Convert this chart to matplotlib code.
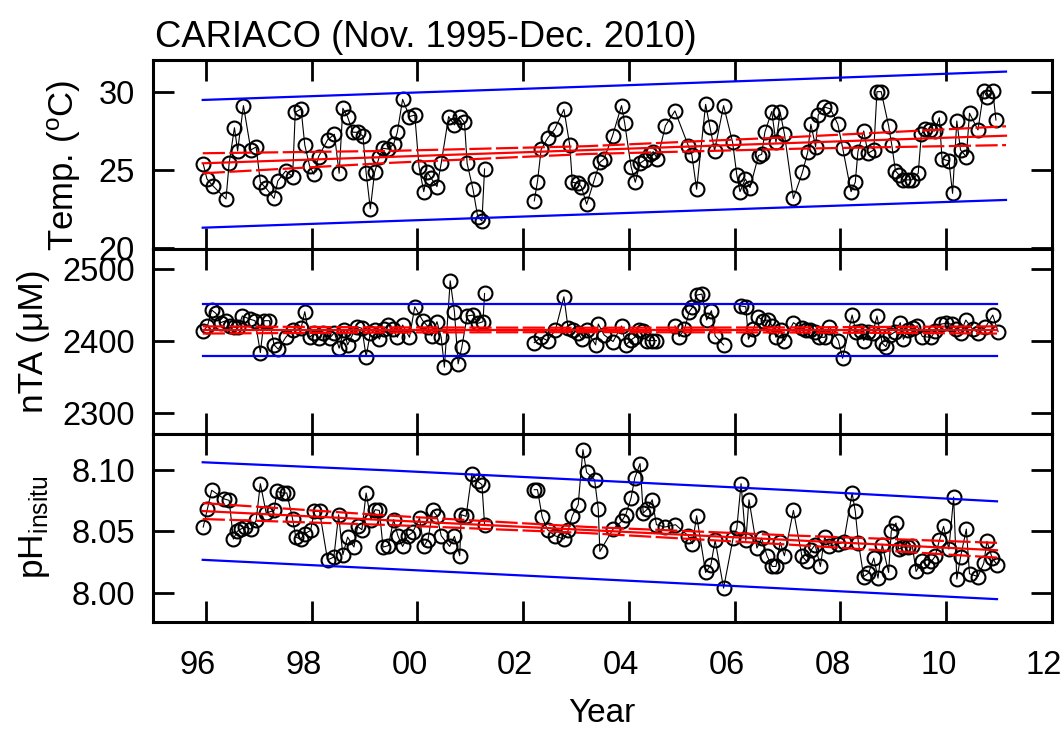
import numpy as np
import matplotlib.pyplot as plt
from matplotlib.transforms import ScaledTranslation

plt.rcParams['font.family'] = ['Liberation Sans', 'DejaVu Sans']
plt.rcParams['mathtext.fontset'] = 'custom'
plt.rcParams['mathtext.rm'] = 'Liberation Sans'
plt.rcParams['mathtext.it'] = 'Liberation Sans:italic'

# ---- temperature (deg C) ----
temp_year = [1995.95, 1996.02, 1996.13, 1996.38, 1996.44, 1996.54, 1996.60, 1996.71, 1996.85, 1996.95,
             1997.03, 1997.14, 1997.29, 1997.36, 1997.51, 1997.64, 1997.69, 1997.80, 1997.87, 1997.96,
             1998.04, 1998.13, 1998.30, 1998.43, 1998.52, 1998.59, 1998.68, 1998.78, 1998.87, 1998.97,
             1999.03, 1999.11, 1999.19, 1999.28, 1999.35, 1999.44, 1999.55, 1999.62, 1999.72, 1999.85,
             1999.95, 2000.03, 2000.12, 2000.19, 2000.26, 2000.37, 2000.45, 2000.59, 2000.70, 2000.80,
             2000.89, 2000.94, 2001.05, 2001.14, 2001.22, 2001.27,
             2002.21, 2002.27, 2002.34, 2002.46, 2002.60, 2002.77, 2002.88, 2002.93, 2003.04, 2003.10,
             2003.20, 2003.35, 2003.45, 2003.53, 2003.69, 2003.86, 2003.92, 2004.04, 2004.12, 2004.21,
             2004.30, 2004.40, 2004.46, 2004.54, 2004.69, 2004.87, 2005.12, 2005.19, 2005.28, 2005.45,
             2005.53, 2005.62, 2005.79, 2005.96, 2006.04, 2006.10, 2006.20, 2006.29, 2006.45, 2006.51,
             2006.57, 2006.70, 2006.78, 2006.86, 2006.94, 2007.11, 2007.28, 2007.38, 2007.44, 2007.53,
             2007.58, 2007.68, 2007.81, 2007.95, 2008.04, 2008.20, 2008.28, 2008.33, 2008.44, 2008.52,
             2008.63, 2008.69, 2008.77, 2008.91, 2008.97, 2009.04, 2009.11, 2009.19, 2009.28, 2009.35,
             2009.47, 2009.53, 2009.60, 2009.70, 2009.78, 2009.87, 2009.92, 2010.05, 2010.12, 2010.20,
             2010.27, 2010.38, 2010.44, 2010.60, 2010.71, 2010.77, 2010.88, 2010.94]
temp_val = [25.39, 24.43, 24.00, 23.15, 25.43, 27.70, 26.22, 29.11, 26.28, 26.47,
            24.22, 23.83, 23.19, 24.30, 24.94, 24.58, 28.68, 28.90, 26.60, 25.28,
            24.73, 25.85, 26.92, 27.28, 24.79, 28.94, 28.39, 27.41, 27.41, 27.17,
            24.83, 22.52, 24.85, 25.85, 26.39, 26.34, 26.64, 27.41, 29.51, 28.41,
            28.51, 25.22, 23.62, 24.85, 24.47, 23.94, 25.43, 28.41, 27.88, 28.41,
            28.04, 25.43, 23.79, 22.02, 21.75, 25.07,
            23.03, 24.26, 26.32, 27.02, 27.62, 28.87, 26.60, 24.22, 24.15, 23.94,
            22.81, 24.43, 25.49, 25.71, 27.19, 29.11, 27.98, 25.22, 24.22, 25.43,
            25.64, 26.00, 26.17, 25.71, 27.83, 28.77, 26.56, 25.96, 23.77, 29.19,
            27.77, 26.24, 29.11, 26.77, 24.68, 23.62, 24.43, 23.88, 25.92, 26.00,
            27.41, 28.73, 26.77, 28.68, 27.30, 23.19, 24.85, 26.13, 27.92, 26.49,
            28.51, 29.04, 28.90, 27.92, 26.43, 23.62, 24.22, 26.17, 27.49, 26.07,
            26.28, 30.00, 30.00, 27.83, 26.60, 24.94, 24.68, 24.37, 24.37, 24.37,
            24.79, 27.30, 27.62, 27.56, 27.49, 28.34, 25.71, 25.58, 23.51, 28.13,
            26.28, 25.85, 28.62, 27.56, 30.04, 29.68, 30.04, 28.19]

# ---- normalised total alkalinity (uM) ----
ta_year = [1995.95, 1996.03, 1996.11, 1996.19, 1996.28, 1996.38, 1996.46, 1996.54, 1996.61, 1996.69,
           1996.84, 1996.93, 1997.03, 1997.10, 1997.20, 1997.29, 1997.37, 1997.51, 1997.64, 1997.80,
           1997.87, 1997.96, 1998.05, 1998.13, 1998.21, 1998.34, 1998.43, 1998.52, 1998.61, 1998.68,
           1998.78, 1998.86, 1998.95, 1999.03, 1999.11, 1999.20, 1999.28, 1999.36, 1999.44, 1999.53,
           1999.62, 1999.72, 1999.85, 1999.95, 2000.10, 2000.20, 2000.27, 2000.37, 2000.45, 2000.51,
           2000.62, 2000.70, 2000.77, 2000.84, 2000.94, 2001.05, 2001.14, 2001.24, 2001.27,
           2002.21, 2002.34, 2002.46, 2002.61, 2002.77, 2002.85, 2002.94, 2003.03, 2003.11, 2003.20,
           2003.37, 2003.42,
           2003.53, 2003.70, 2003.86, 2003.94, 2004.04, 2004.11, 2004.19, 2004.27, 2004.35, 2004.44,
           2004.52, 2004.87, 2004.95, 2005.05, 2005.14, 2005.20, 2005.28, 2005.38, 2005.47, 2005.56,
           2005.63, 2005.79, 2006.12, 2006.21, 2006.26, 2006.35, 2006.44, 2006.54, 2006.63, 2006.71,
           2006.78, 2006.88, 2006.94, 2007.11, 2007.27, 2007.34, 2007.43, 2007.52, 2007.60, 2007.70,
           2007.79, 2007.96, 2008.04, 2008.22, 2008.29, 2008.39, 2008.44, 2008.53, 2008.61, 2008.69,
           2008.79, 2008.86, 2008.94, 2009.04, 2009.13, 2009.19, 2009.28, 2009.38, 2009.45, 2009.55,
           2009.72, 2009.79, 2009.91, 2009.99, 2010.10, 2010.19, 2010.27, 2010.37, 2010.50, 2010.61,
           2010.74, 2010.88, 2010.98]
ta_val = [2413.6, 2420.5, 2442.5, 2437.9, 2425.1, 2427.8, 2420.5, 2418.6, 2418.6, 2434.3,
          2429.7, 2427.8, 2383.7, 2427.8, 2427.8, 2394.3, 2388.3, 2404.8, 2415.0, 2417.2,
          2440.2, 2404.8, 2410.4, 2403.5, 2410.4, 2403.5, 2411.3, 2389.7, 2415.0, 2394.3,
          2409.4, 2419.5, 2417.2, 2378.2, 2410.4, 2415.0, 2402.1, 2415.9, 2421.8, 2415.9,
          2404.8, 2421.8, 2404.8, 2447.1, 2427.8, 2419.5, 2406.7, 2426.4, 2404.8, 2363.5,
          2483.0, 2440.2, 2368.1, 2391.1, 2434.3, 2435.6, 2424.1, 2426.4, 2465.5,
          2397.5, 2404.8, 2400.2, 2415.0, 2460.9, 2417.2, 2415.0, 2411.3, 2402.1, 2415.0,
          2394.3, 2423.2,
          2408.1, 2398.9, 2420.5, 2394.3, 2401.2, 2404.8, 2415.0, 2414.0, 2400.2, 2400.2,
          2400.2, 2420.5, 2405.8, 2415.9, 2440.2, 2446.2, 2463.2, 2464.6, 2428.7, 2441.6,
          2406.7, 2394.3, 2448.1, 2447.1, 2402.1, 2415.9, 2433.3, 2427.8, 2428.7, 2420.5,
          2404.8, 2415.0, 2400.2, 2425.1, 2417.2, 2415.0, 2415.0, 2412.6, 2404.8, 2404.8,
          2419.5, 2400.2, 2375.9, 2435.6, 2412.6, 2414.0, 2400.2, 2412.6, 2410.4, 2434.3,
          2396.6, 2391.9, 2408.1, 2412.6, 2425.1, 2402.1, 2415.0, 2417.2, 2420.5, 2405.8,
          2404.8, 2414.0, 2423.2, 2424.1, 2423.2, 2415.9, 2410.4, 2428.7, 2415.9, 2411.3,
          2418.6, 2435.6, 2412.6]

# ---- in situ pH ----
ph_year = [1995.95, 1996.03, 1996.11, 1996.35, 1996.44, 1996.52, 1996.59, 1996.66, 1996.74, 1996.85,
           1996.95, 1997.03, 1997.14, 1997.29, 1997.34, 1997.45, 1997.53, 1997.64, 1997.70, 1997.79,
           1997.87, 1997.98, 1998.05, 1998.15, 1998.30, 1998.42, 1998.51, 1998.59, 1998.68, 1998.80,
           1998.87, 1998.95, 1999.03, 1999.12, 1999.20, 1999.28, 1999.35, 1999.45, 1999.55, 1999.63,
           1999.72, 1999.82, 1999.91, 2000.04, 2000.12, 2000.20, 2000.29, 2000.37, 2000.45, 2000.61,
           2000.70, 2000.80, 2000.83, 2000.92, 2001.03, 2001.14, 2001.22, 2001.27,
           2002.21, 2002.27, 2002.36, 2002.46, 2002.60, 2002.77, 2002.85, 2002.93, 2003.04, 2003.13,
           2003.20, 2003.35, 2003.42, 2003.45,
           2003.70, 2003.86, 2003.94, 2004.04, 2004.11, 2004.21, 2004.27, 2004.35, 2004.44, 2004.52,
           2004.68, 2004.88, 2005.12, 2005.20, 2005.28, 2005.45, 2005.55, 2005.63, 2005.79, 2005.97,
           2006.04, 2006.12, 2006.21, 2006.27, 2006.42, 2006.51, 2006.61, 2006.71, 2006.78, 2006.86,
           2006.94, 2007.11, 2007.27, 2007.36, 2007.45, 2007.52, 2007.62, 2007.70, 2007.79, 2007.96,
           2008.06, 2008.22, 2008.28, 2008.34, 2008.44, 2008.53, 2008.63, 2008.71, 2008.79, 2008.91,
           2008.96, 2009.05, 2009.10, 2009.19, 2009.28, 2009.36, 2009.43, 2009.54, 2009.64, 2009.72,
           2009.79, 2009.87, 2009.95, 2010.05, 2010.14, 2010.20, 2010.27, 2010.38, 2010.44, 2010.60,
           2010.71, 2010.77, 2010.87, 2010.96]
ph_val = [8.0533, 8.0682, 8.0832, 8.0761, 8.0750, 8.0435, 8.0497, 8.0516, 8.0533, 8.0516,
          8.0587, 8.0886, 8.0647, 8.0668, 8.0823, 8.0810, 8.0810, 8.0598, 8.0451, 8.0435,
          8.0478, 8.0505, 8.0660, 8.0660, 8.0266, 8.0288, 8.0633, 8.0307, 8.0451, 8.0370,
          8.0538, 8.0511, 8.0810, 8.0592, 8.0674, 8.0668, 8.0370, 8.0381, 8.0592, 8.0462,
          8.0375, 8.0462, 8.0489, 8.0606, 8.0375, 8.0429, 8.0668, 8.0625, 8.0462, 8.0375,
          8.0457, 8.0299, 8.0633, 8.0620, 8.0967, 8.0905, 8.0878, 8.0552,
          8.0837, 8.0837, 8.0614, 8.0511, 8.0462, 8.0435, 8.0505, 8.0625, 8.0715, 8.1163,
          8.0978, 8.0918, 8.0679, 8.0334,
          8.0516, 8.0579, 8.0633, 8.0769, 8.0932, 8.1049, 8.0647, 8.0679, 8.0755, 8.0552,
          8.0533, 8.0552, 8.0462, 8.0397, 8.0625, 8.0163, 8.0226, 8.0424, 8.0036, 8.0443,
          8.0524, 8.0886, 8.0424, 8.0755, 8.0362, 8.0443, 8.0299, 8.0212, 8.0212, 8.0408,
          8.0299, 8.0668, 8.0299, 8.0253, 8.0348, 8.0389, 8.0212, 8.0451, 8.0375, 8.0397,
          8.0408, 8.0810, 8.0660, 8.0402, 8.0130, 8.0158, 8.0280, 8.0117, 8.0389, 8.0163,
          8.0497, 8.0565, 8.0353, 8.0370, 8.0370, 8.0375, 8.0171, 8.0253, 8.0218, 8.0253,
          8.0294, 8.0424, 8.0538, 8.0353, 8.0777, 8.0109, 8.0288, 8.0516, 8.0152, 8.0130,
          8.0239, 8.0416, 8.0280, 8.0226]

# ---- regression lines (fit, 95% band of fit, prediction band) ----
temp_fit_x = [1995.94, 1999.5, 2003.2, 2007.2, 2011.13]
temp_fit = [25.43, 25.84, 26.27, 26.74, 27.19]
temp_ci_hi = [26.07, 26.22, 26.52, 27.12, 27.79]
temp_ci_lo = [24.79, 25.46, 26.02, 26.36, 26.59]
temp_pi_hi = [29.47, 29.89, 30.32, 30.80, 31.28]
temp_pi_lo = [21.32, 21.74, 22.17, 22.64, 23.09]

ta_fit_x = [1995.94, 1999.5, 2003.2, 2007.1, 2010.96]
ta_fit = [2415.0, 2415.0, 2415.0, 2415.0, 2415.0]
ta_ci_hi = [2420.0, 2418.5, 2418.0, 2418.5, 2420.0]
ta_ci_lo = [2410.0, 2411.5, 2412.0, 2411.5, 2410.0]
ta_pi_hi = [2450.8, 2450.8, 2450.8, 2450.8, 2450.8]
ta_pi_lo = [2379.1, 2379.1, 2379.1, 2379.1, 2379.1]

ph_fit_x = [1995.94, 1999.5, 2003.2, 2007.1, 2010.96]
ph_fit = [8.0663, 8.0587, 8.0509, 8.0426, 8.0344]
ph_ci_hi = [8.0728, 8.0625, 8.0534, 8.0464, 8.0404]
ph_ci_lo = [8.0598, 8.0549, 8.0484, 8.0388, 8.0284]
ph_pi_hi = [8.1060, 8.0993, 8.0915, 8.0832, 8.0742]
ph_pi_lo = [8.0266, 8.0191, 8.0113, 8.0029, 7.9946]

year_ticks = [1996, 1998, 2000, 2002, 2004, 2006, 2008, 2010, 2012]
year_labels = ['96', '98', '00', '02', '04', '06', '08', '10', '12']


def with_gaps(x, y, max_gap=0.3):
    # break the connecting line where sampling stopped for a while
    x = np.asarray(x, float)
    y = np.asarray(y, float)
    cut = np.where(np.diff(x) > max_gap)[0] + 1
    return np.insert(x, cut, np.nan), np.insert(y, cut, np.nan)


fig = plt.figure(figsize=(10.64, 7.29), dpi=100)
W, H = 1064, 729


def panel(top, bottom):
    return fig.add_axes([153 / W, 1 - bottom / H, 899 / W, (bottom - top) / H])


def draw(ax, x, y, fx, fit, cl, ch, pl, ph, ylim, yticks, ylabels):
    gx, gy = with_gaps(x, y)
    ax.plot(gx, gy, '-', color='black', lw=0.8, zorder=2)
    ax.plot(x, y, 'o', mfc='none', mec='black', ms=10, mew=1.5, zorder=3)
    ax.plot(fx, pl, color='#0000ff', lw=1.6, zorder=4)
    ax.plot(fx, ph, color='#0000ff', lw=1.6, zorder=4)
    ax.plot(fx, fit, color='#ff0000', lw=1.6, zorder=4)
    ax.plot(fx, cl, color='#ff0000', lw=1.6, dashes=(10, 2), zorder=4)
    ax.plot(fx, ch, color='#ff0000', lw=1.6, dashes=(10, 2), zorder=4)
    ax.set_xlim(1995.0, 2012.0)
    ax.set_ylim(*ylim)
    ax.set_xticks(year_ticks)
    ax.set_yticks(yticks)
    ax.set_yticklabels(ylabels)
    ax.tick_params(direction='in', length=15, width=2, top=True, right=True,
                   labelsize=23.5, pad=13)
    ax.tick_params(axis='x', pad=20)
    for s in ax.spines.values():
        s.set_linewidth(2.2)


ax1 = panel(60, 249)
draw(ax1, temp_year, temp_val, temp_fit_x, temp_fit, temp_ci_lo, temp_ci_hi,
     temp_pi_lo, temp_pi_hi, (19.96, 32.02), [20, 25, 30], ['20', '25', '30'])
ax1.set_xticklabels([])

ax2 = panel(249, 434)
draw(ax2, ta_year, ta_val, ta_fit_x, ta_fit, ta_ci_lo, ta_ci_hi,
     ta_pi_lo, ta_pi_hi, (2271, 2527), [2300, 2400, 2500], ['2300', '2400', '2500'])
ax2.set_xticklabels([])

ax3 = panel(434, 622)
draw(ax3, ph_year, ph_val, ph_fit_x, ph_fit, ph_ci_lo, ph_ci_hi,
     ph_pi_lo, ph_pi_hi, (7.976, 8.129), [8.00, 8.05, 8.10], ['8.00', '8.05', '8.10'])
ax3.set_xticklabels(year_labels)
shift = ScaledTranslation(-0.08, 0, fig.dpi_scale_trans)
for lab in ax3.get_xticklabels():
    lab.set_transform(lab.get_transform() + shift)

fig.text(155 / W, 1 - 47 / H, 'CARIACO (Nov. 1995-Dec. 2010)', fontsize=26.2, va='baseline')
fig.text(64 / W, 1 - 165 / H, r'Temp. ($^{\mathrm{o}}$C)', fontsize=25, rotation=90,
         ha='center', va='center')
fig.text(33 / W, 1 - 341 / H, 'nTA (μM)', fontsize=25.5, rotation=90, ha='center', va='center')
fig.text(35 / W, 1 - 527 / H, r'pH$_{\mathrm{insitu}}$', fontsize=25.5, rotation=90,
         ha='center', va='center')
fig.text(602 / W, 1 - 713 / H, 'Year', fontsize=24, ha='center', va='center')

fig.savefig('out.png', dpi=100)
